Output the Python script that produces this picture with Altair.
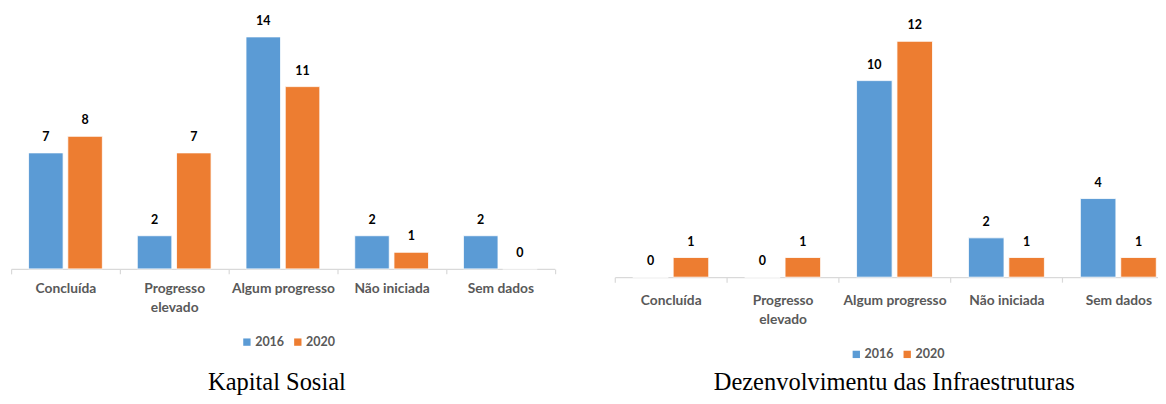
import altair as alt
import pandas as pd

categories = ["Concluída", "Progresso elevado", "Algum progresso", "Não iniciada", "Sem dados"]
years = ["2016", "2020"]
kapital_2016 = [7, 2, 14, 2, 2]
kapital_2020 = [8, 7, 11, 1, 0]
infra_2016 = [0, 0, 10, 2, 4]
infra_2020 = [1, 1, 12, 1, 1]
titles = ["Kapital Sosial", "Dezenvolvimentu das Infraestruturas"]
colors = ["#5B9BD5", "#ED7D31"]

FONT = "Lato"


def make_df(v16, v20):
    rows = []
    for c, a, b in zip(categories, v16, v20):
        rows.append({"cat": c, "year": years[0], "value": a})
        rows.append({"cat": c, "year": years[1], "value": b})
    return pd.DataFrame(rows)


def panel(df, width, height, ymax, title, legend_x, legend_y, label_pad, title_x, title_y):
    base = alt.Chart(df).encode(
        x=alt.X(
            "cat:N",
            sort=categories,
            scale=alt.Scale(paddingInner=0, paddingOuter=0),
            axis=alt.Axis(
                title=None,
                labelAngle=0,
                labelExpr="datum.label == 'Progresso elevado' ? ['Progresso', 'elevado'] : datum.label",
                labelFont=FONT,
                labelFontSize=13.8,
                labelFontWeight="bold",
                labelColor="#595959",
                labelPadding=label_pad,
                labelLineHeight=19,
                labelBaseline="top",
                tickBand="extent",
                tickColor="#D9D9D9",
                tickSize=5,
                tickWidth=1.2,
                domainColor="#D9D9D9",
                domainWidth=1.4,
                grid=False,
            ),
        ),
        xOffset=alt.XOffset(
            "year:N",
            sort=years,
            scale=alt.Scale(paddingInner=0.12, paddingOuter=0.445),
        ),
        y=alt.Y("value:Q", scale=alt.Scale(domain=[0, ymax], nice=False), axis=None),
    )
    bars = base.mark_bar(stroke="white", strokeWidth=0.8).encode(
        color=alt.Color(
            "year:N",
            sort=years,
            scale=alt.Scale(domain=years, range=colors),
            legend=alt.Legend(
                title=None,
                orient="none",
                direction="horizontal",
                legendX=legend_x,
                legendY=legend_y,
                symbolType="square",
                symbolSize=54,
                symbolStrokeWidth=0,
                labelFont=FONT,
                labelFontSize=12.5,
                labelFontWeight="bold",
                labelColor="#595959",
                labelOffset=2,
                columnPadding=7,
            ),
        )
    )
    labels = base.mark_text(
        dy=-16, fontWeight="bold", font=FONT, fontSize=12.5, color="#000000", baseline="middle"
    ).encode(text="value:Q")
    title_mark = alt.Chart(pd.DataFrame({"t": [title]})).mark_text(
        font="Liberation Serif",
        fontSize=24.5,
        color="#000000",
        align="center",
        baseline="alphabetic",
    ).encode(text="t:N", x=alt.value(title_x), y=alt.value(title_y))
    return alt.layer(bars, labels, title_mark).properties(width=width, height=height)


left = panel(make_df(kapital_2016, kapital_2020), 544.6, 259, 259 / 16.6, titles[0], 230, 326, 8, 266.3, 380)
right = panel(make_df(infra_2016, infra_2020), 560.5, 267.3, 267.3 / 19.69, titles[1], 235.7, 338.3, 11, 280, 380)

chart = (
    alt.hconcat(left, right, spacing=57.8)
    .resolve_scale(color="independent", x="independent", y="independent", xOffset="independent")
    .properties(padding={"left": 2.1, "top": 2, "right": -18, "bottom": 0}, background="white")
    .configure_view(stroke=None)
)

chart.save("out.html", embed_options={"renderer": "svg", "actions": False})
